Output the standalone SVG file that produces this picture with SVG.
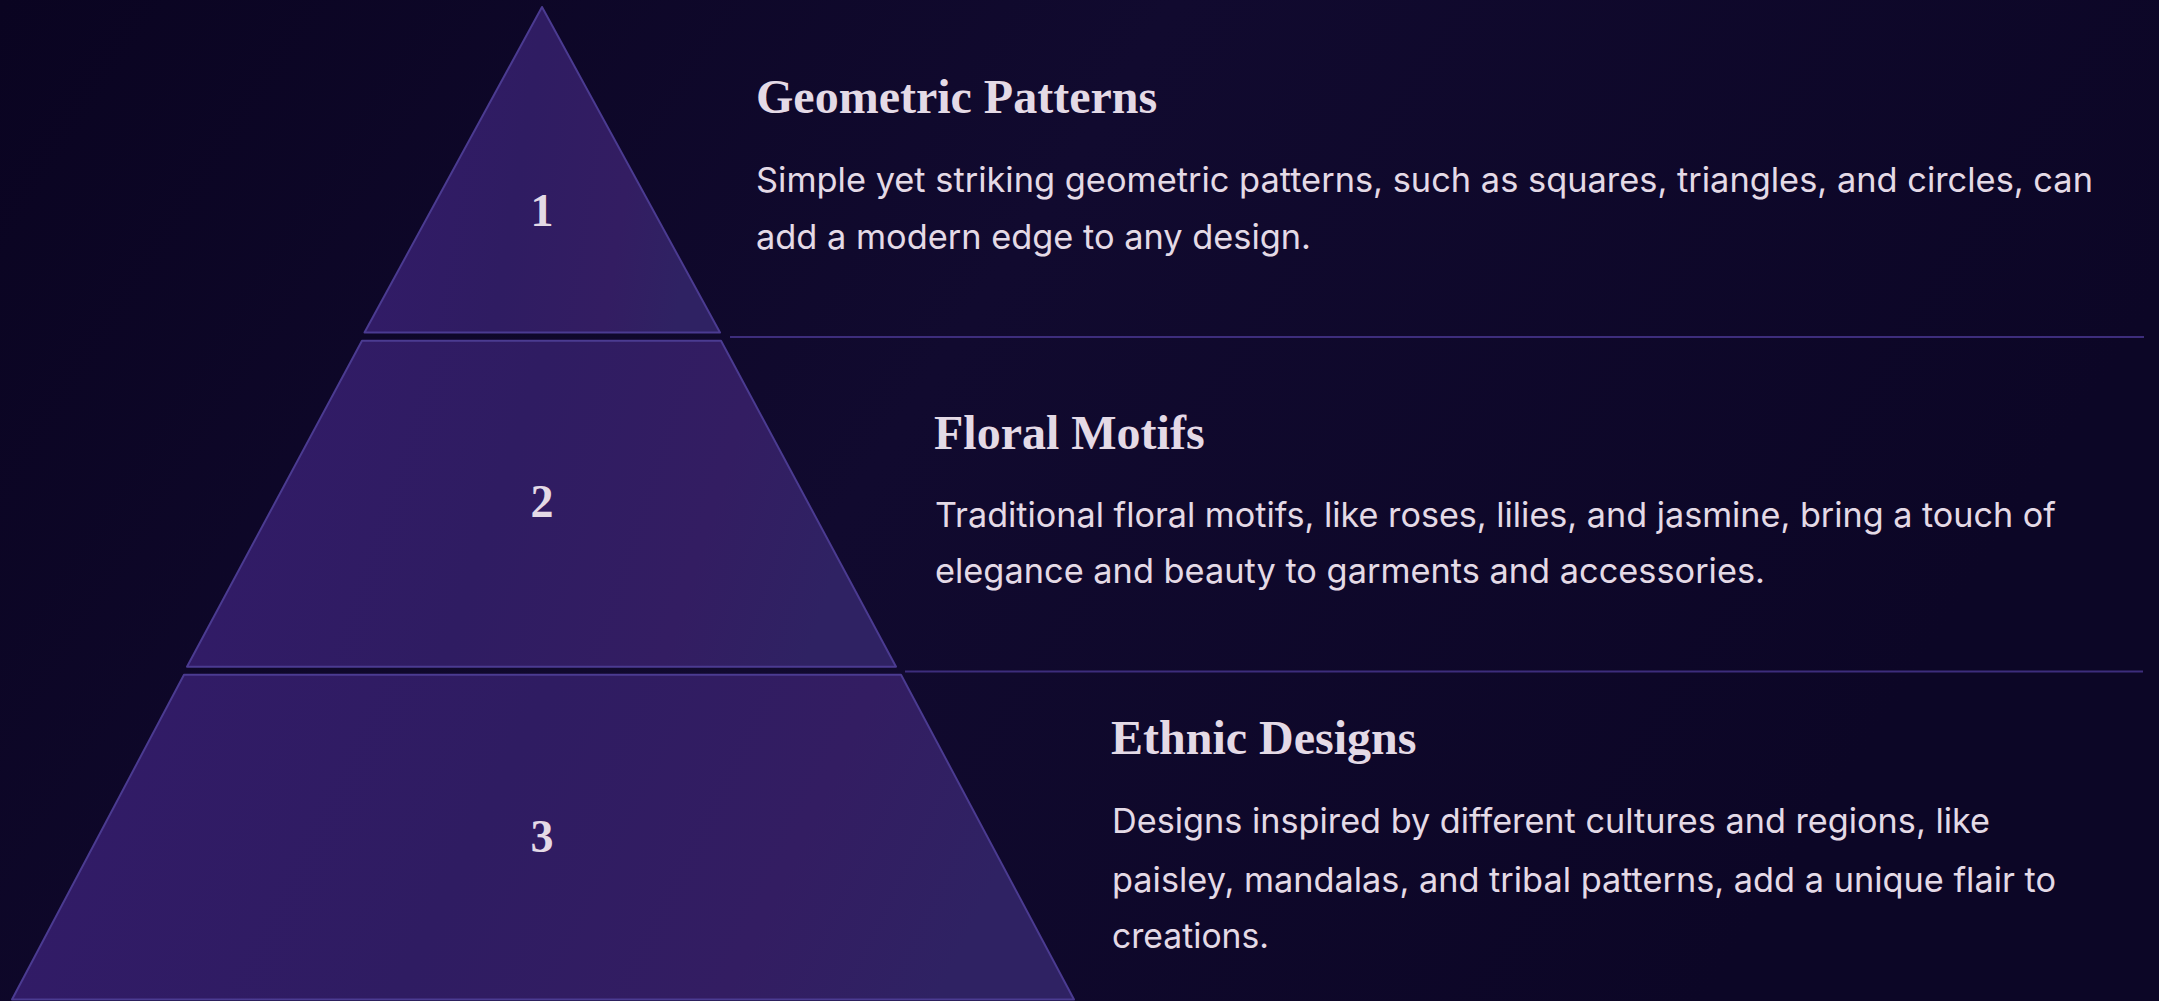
<svg xmlns="http://www.w3.org/2000/svg" width="2159" height="1001" viewBox="0 0 2159 1001">
  <defs>
    <linearGradient id="bg" x1="0" y1="0" x2="1" y2="0.3">
      <stop offset="0" stop-color="#0a0421"/>
      <stop offset="0.5" stop-color="#110a2f"/>
      <stop offset="1" stop-color="#0c0626"/>
    </linearGradient>
    <linearGradient id="tier" x1="0" y1="0" x2="1" y2="0.15">
      <stop offset="0" stop-color="#321b68"/>
      <stop offset="0.5" stop-color="#2f1c62"/>
      <stop offset="0.8" stop-color="#331d62"/>
      <stop offset="1" stop-color="#2f2263"/>
    </linearGradient>
    <style>
      .tier { fill: url(#tier); stroke: #4b3b91; stroke-width: 2; stroke-linejoin: round; }
      .num { font-family: "Liberation Serif", "DejaVu Serif", serif; font-weight: bold; font-size: 46px; fill: #e4dae6; text-anchor: middle; }
      .title { font-family: "Liberation Serif", "DejaVu Serif", serif; font-weight: bold; font-size: 48px; fill: #e4dae6; }
      .body { font-family: Inter, "Noto Sans", "Liberation Sans", sans-serif; font-size: 34px; fill: #e4dae6; }
      .sep { stroke: #3d2d7c; stroke-width: 2; fill: none; }
    </style>
  </defs>
  <rect x="0" y="0" width="2159" height="1001" fill="url(#bg)"/>

  <g id="connectors">
    <line class="sep" x1="730" y1="337" x2="2144" y2="337"/>
    <line class="sep" x1="905" y1="671.5" x2="2143" y2="671.5"/>
  </g>

  <g id="tier-1">
    <polygon class="tier" points="542,7 720,332.5 364.5,332.5"/>
    <text class="num" x="542" y="226">1</text>
  </g>
  <g id="tier-2">
    <polygon class="tier" points="362,340.7 721,340.7 896,666.7 187,666.7"/>
    <text class="num" x="542" y="517">2</text>
  </g>
  <g id="tier-3">
    <polygon class="tier" points="184,674.7 901,674.7 1074,999.5 12,999.5"/>
    <text class="num" x="542" y="852">3</text>
  </g>

  <g id="text-1">
    <text class="title" x="756" y="113">Geometric Patterns</text>
    <text class="body" x="756" y="191.7" textLength="1337" lengthAdjust="spacingAndGlyphs">Simple yet striking geometric patterns, such as squares, triangles, and circles, can</text>
    <text class="body" x="756" y="249" textLength="555" lengthAdjust="spacingAndGlyphs">add a modern edge to any design.</text>
  </g>
  <g id="text-2">
    <text class="title" x="934" y="449">Floral Motifs</text>
    <text class="body" x="935" y="526.7" textLength="1121" lengthAdjust="spacingAndGlyphs">Traditional floral motifs, like roses, lilies, and jasmine, bring a touch of</text>
    <text class="body" x="935" y="583.3" textLength="830" lengthAdjust="spacingAndGlyphs">elegance and beauty to garments and accessories.</text>
  </g>
  <g id="text-3">
    <text class="title" x="1111" y="754">Ethnic Designs</text>
    <text class="body" x="1112" y="833.3" textLength="878" lengthAdjust="spacingAndGlyphs">Designs inspired by different cultures and regions, like</text>
    <text class="body" x="1112" y="891.7" textLength="944" lengthAdjust="spacingAndGlyphs">paisley, mandalas, and tribal patterns, add a unique flair to</text>
    <text class="body" x="1112" y="948.3" textLength="157" lengthAdjust="spacingAndGlyphs">creations.</text>
  </g>
</svg>
